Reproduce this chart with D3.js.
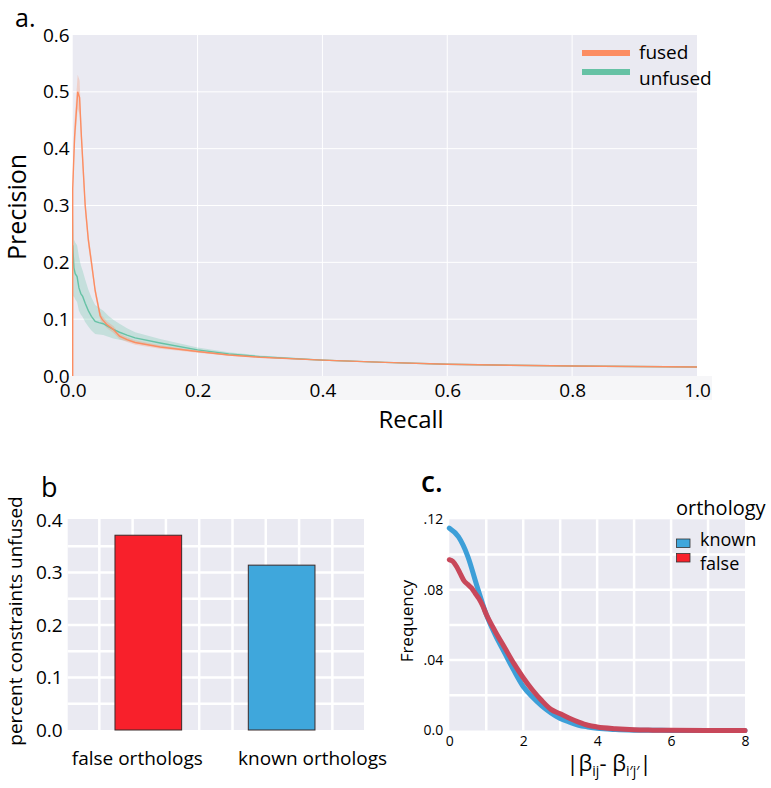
<!DOCTYPE html>
<html><head><meta charset="utf-8">
<script src="https://cdn.jsdelivr.net/npm/d3@7"></script>
<style>body{margin:0;background:#fff}svg{display:block;font-family:"Open Sans",sans-serif}</style>
</head><body>
<svg id="c" width="771" height="788"></svg>
<script>
// ---------- Panel a data ----------
const fusedRecall    = [0, 0, 0.003, 0.008, 0.011, 0.014, 0.017, 0.02, 0.025, 0.03, 0.036, 0.044, 0.047, 0.055, 0.065, 0.075, 0.087, 0.1, 0.14, 0.2, 0.25, 0.3, 0.4, 0.5, 0.6, 0.7, 0.8, 0.9, 1.0];
const fusedPrecision = [0, 0.33, 0.42, 0.50, 0.49, 0.42, 0.36, 0.30, 0.24, 0.20, 0.15, 0.106, 0.100, 0.090, 0.082, 0.070, 0.064, 0.059, 0.051, 0.043, 0.037, 0.033, 0.028, 0.024, 0.0206, 0.019, 0.0176, 0.0166, 0.0158];
const fusedLower     = [0, 0.31, 0.40, 0.47, 0.46, 0.40, 0.34, 0.285, 0.228, 0.19, 0.142, 0.099, 0.094, 0.084, 0.076, 0.065, 0.060, 0.055, 0.048, 0.041, 0.0355, 0.032, 0.027, 0.0233, 0.020, 0.0185, 0.0172, 0.0162, 0.0155];
const fusedUpper     = [0, 0.35, 0.45, 0.53, 0.52, 0.44, 0.38, 0.315, 0.252, 0.21, 0.158, 0.113, 0.106, 0.096, 0.088, 0.075, 0.068, 0.063, 0.054, 0.045, 0.0385, 0.034, 0.029, 0.0247, 0.0212, 0.0195, 0.018, 0.017, 0.0161];

const unfusedRecall    = [0, 0.002, 0.004, 0.007, 0.01, 0.013, 0.016, 0.02, 0.025, 0.03, 0.036, 0.042, 0.049, 0.057, 0.065, 0.075, 0.087, 0.1, 0.14, 0.2, 0.25, 0.3, 0.4, 0.5, 0.6, 0.7, 0.8, 0.9, 1.0];
const unfusedPrecision = [0.23, 0.19, 0.18, 0.175, 0.155, 0.145, 0.14, 0.128, 0.115, 0.105, 0.096, 0.094, 0.092, 0.087, 0.082, 0.077, 0.072, 0.067, 0.058, 0.046, 0.039, 0.034, 0.028, 0.024, 0.0206, 0.019, 0.0176, 0.0166, 0.0158];
const unfusedLower     = [0.14, 0.14, 0.135, 0.13, 0.115, 0.108, 0.104, 0.095, 0.087, 0.08, 0.074, 0.073, 0.072, 0.069, 0.066, 0.064, 0.061, 0.058, 0.051, 0.042, 0.036, 0.032, 0.027, 0.0233, 0.020, 0.0185, 0.0172, 0.0162, 0.0155];
const unfusedUpper     = [0.30, 0.24, 0.235, 0.23, 0.21, 0.195, 0.185, 0.17, 0.152, 0.138, 0.125, 0.12, 0.115, 0.106, 0.099, 0.092, 0.084, 0.077, 0.065, 0.050, 0.042, 0.036, 0.029, 0.0247, 0.0212, 0.0195, 0.018, 0.017, 0.0161];

const aXTicks = [0, 0.2, 0.4, 0.6, 0.8, 1.0];
const aYTicks = [0, 0.1, 0.2, 0.3, 0.4, 0.5, 0.6];
const aSeries = ["fused", "unfused"];

// ---------- Panel b data ----------
const bCategories = ["false orthologs", "known orthologs"];
const bValues = [0.371, 0.314];
const bYTicks = [0, 0.1, 0.2, 0.3, 0.4];
const bGridY = [0.05, 0.1, 0.15, 0.2, 0.25, 0.3, 0.35];
const bGridX = [0, 1, 2, 3, 4, 5, 6, 7];

// ---------- Panel c data ----------
const cKnownX = [0, 0.25, 0.5, 0.75, 1, 1.25, 1.5, 1.75, 2, 2.25, 2.5, 2.75, 3, 3.25, 3.5, 3.75, 4, 4.5, 5, 5.5, 6, 7, 8];
const cKnownY = [0.115, 0.110, 0.099, 0.082, 0.066, 0.054, 0.044, 0.034, 0.025, 0.019, 0.014, 0.010, 0.0068, 0.0048, 0.003, 0.002, 0.0012, 0.0005, 0.0002, 0.0001, 0.00005, 0, 0];
const cFalseX = [0, 0.1, 0.2, 0.3, 0.4, 0.5, 0.6, 0.7, 0.8, 0.9, 1.0, 1.25, 1.5, 1.75, 2, 2.25, 2.5, 2.75, 3, 3.25, 3.5, 3.75, 4, 4.5, 5, 5.5, 6, 7, 8];
const cFalseY = [0.097, 0.096, 0.093, 0.089, 0.085, 0.083, 0.081, 0.078, 0.075, 0.071, 0.066, 0.056, 0.047, 0.038, 0.030, 0.023, 0.017, 0.012, 0.0095, 0.007, 0.0048, 0.003, 0.002, 0.001, 0.0004, 0.0002, 0.0001, 0, 0];
const cXTicks = [0, 2, 4, 6, 8];
const cYTicks = [0, 0.04, 0.08, 0.12];
const cYTickLabels = ["0.0", ".04", ".08", ".12"];
const cGridX = [1, 2, 3, 4, 5, 6, 7];
const cGridY = [0.02, 0.04, 0.06, 0.08, 0.10];
const cLegend = ["known", "false"];

// ---------- Drawing ----------
const svg = d3.select("#c");
const BG = "#EAEAF2";
const FUSED = "#FC8D62", UNFUSED = "#66C2A5";
const RED = "#F8202B", BLUE = "#3FA7DC";
const CRED = "#C8475A", CBLUE = "#3D9FD8";
const TXT = "#000";

// ===== Panel a =====
{
  const x = d3.scaleLinear().domain([0, 1]).range([72.7, 697]);
  const y = d3.scaleLinear().domain([0, 0.6]).range([376, 35]);
  const g = svg.append("g");
  g.append("rect").attr("x", 62).attr("y", 376).attr("width", 650).attr("height", 24).attr("fill", "#f6f6f8");
  g.append("rect").attr("x", x(0)).attr("y", y(0.6)).attr("width", x(1) - x(0)).attr("height", y(0) - y(0.6)).attr("fill", BG);
  g.selectAll("line.gx").data(aXTicks.slice(1, -1)).join("line")
    .attr("x1", d => x(d)).attr("x2", d => x(d)).attr("y1", y(0)).attr("y2", y(0.6))
    .attr("stroke", "#fff").attr("stroke-width", 1);
  g.selectAll("line.gy").data(aYTicks.slice(1, -1)).join("line")
    .attr("x1", x(0)).attr("x2", x(1)).attr("y1", d => y(d)).attr("y2", d => y(d))
    .attr("stroke", "#fff").attr("stroke-width", 1);

  const mk = (r, p, lo, hi) => r.map((v, i) => ({ r: v, p: p[i], lo: lo[i], hi: hi[i] }));
  const fused = mk(fusedRecall, fusedPrecision, fusedLower, fusedUpper);
  const unfused = mk(unfusedRecall, unfusedPrecision, unfusedLower, unfusedUpper);
  const area = d3.area().x(d => x(d.r)).y0(d => y(d.lo)).y1(d => y(d.hi));
  const line = d3.line().x(d => x(d.r)).y(d => y(d.p));
  g.append("path").attr("d", area(unfused)).attr("fill", UNFUSED).attr("opacity", 0.28);
  g.append("path").attr("d", area(fused)).attr("fill", FUSED).attr("opacity", 0.28);
  g.append("path").attr("d", line(unfused)).attr("fill", "none").attr("stroke", UNFUSED).attr("stroke-width", 1.4);
  g.append("path").attr("d", line(fused)).attr("fill", "none").attr("stroke", FUSED).attr("stroke-width", 1.4);

  const xa = g.append("g").attr("transform", `translate(0,${y(0)})`)
    .call(d3.axisBottom(x).tickValues(aXTicks).tickFormat(d3.format(".1f")).tickSize(0).tickPadding(8));
  xa.select(".domain").remove();
  xa.selectAll("text").attr("font-size", 19).attr("font-family", "Open Sans").attr("fill", TXT);
  const ya = g.append("g").attr("transform", `translate(${x(0)},0)`)
    .call(d3.axisLeft(y).tickValues(aYTicks).tickFormat(d3.format(".1f")).tickSize(0).tickPadding(3));
  ya.select(".domain").remove();
  ya.selectAll("text").attr("font-size", 19).attr("font-family", "Open Sans").attr("fill", TXT);

  g.append("text").attr("x", 411).attr("y", 428).attr("text-anchor", "middle").attr("font-size", 24).attr("fill", TXT).text("Recall");
  g.append("text").attr("transform", "translate(26,207) rotate(-90)").attr("text-anchor", "middle").attr("font-size", 25).attr("fill", TXT).text("Precision");
  g.append("text").attr("x", 15).attr("y", 27).attr("font-size", 25).attr("fill", TXT).text("a.");

  const cols = [FUSED, UNFUSED];
  aSeries.forEach((s, i) => {
    g.append("line").attr("x1", 582).attr("x2", 630).attr("y1", 53 + i * 19).attr("y2", 53 + i * 19)
      .attr("stroke", cols[i]).attr("stroke-width", 6);
    g.append("text").attr("x", 639).attr("y", 59 + i * 26).attr("font-size", 19).attr("fill", TXT).text(s);
  });
}

// ===== Panel b =====
{
  const y = d3.scaleLinear().domain([0, 0.4]).range([730, 520]);
  const xb = d3.scaleBand().domain(bCategories).range([81.65, 348.3]).paddingInner(0.5).paddingOuter(0.25);
  const xg = d3.scaleLinear().domain([-0.95, 7.95]).range([67.7, 364]);
  const g = svg.append("g");
  g.append("rect").attr("x", 67.7).attr("y", 519).attr("width", 364 - 67.7).attr("height", 730 - 519).attr("fill", BG);
  g.selectAll("line.gx").data(bGridX).join("line")
    .attr("x1", d => xg(d)).attr("x2", d => xg(d)).attr("y1", 519).attr("y2", 730)
    .attr("stroke", "#fff").attr("stroke-width", 2.5);
  g.selectAll("line.gy").data(bGridY).join("line")
    .attr("x1", 67.7).attr("x2", 364).attr("y1", d => y(d)).attr("y2", d => y(d))
    .attr("stroke", "#fff").attr("stroke-width", 2.5);
  const bcol = [RED, BLUE];
  g.selectAll("rect.bar").data(bValues).join("rect")
    .attr("x", (d, i) => xb(bCategories[i])).attr("width", xb.bandwidth())
    .attr("y", d => y(d)).attr("height", d => y(0) - y(d))
    .attr("fill", (d, i) => bcol[i]).attr("stroke", "#3a2a2a").attr("stroke-width", 1);

  const ya = g.append("g").attr("transform", `translate(67.7,0)`)
    .call(d3.axisLeft(y).tickValues(bYTicks).tickFormat(d3.format(".1f")).tickSize(0).tickPadding(5));
  ya.select(".domain").remove();
  ya.selectAll("text").attr("font-size", 19).attr("font-family", "Open Sans").attr("fill", TXT);

  const labelShift = [-11, 31];
  bCategories.forEach((c, i) => {
    g.append("text").attr("x", xb(c) + xb.bandwidth() / 2 + labelShift[i]).attr("y", 765)
      .attr("text-anchor", "middle").attr("font-size", 19).attr("fill", TXT).text(c);
  });
  g.append("text").attr("transform", "translate(22,621) rotate(-90)").attr("text-anchor", "middle").attr("font-size", 19).attr("fill", TXT).text("percent constraints unfused");
  g.append("text").attr("x", 41).attr("y", 497).attr("font-size", 27).attr("fill", TXT).text("b");
}

// ===== Panel c =====
{
  const x = d3.scaleLinear().domain([0, 8]).range([449.3, 745]);
  const y = d3.scaleLinear().domain([0, 0.12]).range([730.5, 519.3]);
  const g = svg.append("g");
  g.append("rect").attr("x", x(0)).attr("y", y(0.12)).attr("width", x(8) - x(0)).attr("height", y(0) - y(0.12)).attr("fill", BG);
  g.selectAll("line.gx").data(cGridX).join("line")
    .attr("x1", d => x(d)).attr("x2", d => x(d)).attr("y1", y(0)).attr("y2", y(0.12))
    .attr("stroke", "#fff").attr("stroke-width", 2.5);
  g.selectAll("line.gy").data(cGridY).join("line")
    .attr("x1", x(0)).attr("x2", x(8)).attr("y1", d => y(d)).attr("y2", d => y(d))
    .attr("stroke", "#fff").attr("stroke-width", 2.5);

  const line = d3.line().x(d => x(d[0])).y(d => y(d[1])).curve(d3.curveMonotoneX);
  g.append("path").attr("d", line(cKnownX.map((v, i) => [v, cKnownY[i]]))).attr("fill", "none").attr("stroke", CBLUE).attr("stroke-width", 5).attr("stroke-linecap", "round");
  g.append("path").attr("d", line(cFalseX.map((v, i) => [v, cFalseY[i]]))).attr("fill", "none").attr("stroke", CRED).attr("stroke-width", 5).attr("stroke-linecap", "round");

  const xa = g.append("g").attr("transform", `translate(0,${y(0)})`)
    .call(d3.axisBottom(x).tickValues(cXTicks).tickFormat(d3.format("d")).tickSize(0).tickPadding(6));
  xa.select(".domain").remove();
  xa.selectAll("text").attr("font-size", 14).attr("font-family", "Open Sans").attr("fill", TXT);
  const ya = g.append("g").attr("transform", `translate(${x(0) - 2},0)`)
    .call(d3.axisLeft(y).tickValues(cYTicks).tickFormat((d, i) => cYTickLabels[i]).tickSize(0).tickPadding(4));
  ya.select(".domain").remove();
  ya.selectAll("text").attr("font-size", 14).attr("font-family", "Open Sans").attr("fill", TXT);

  g.append("text").attr("transform", "translate(413,621) rotate(-90)").attr("text-anchor", "middle").attr("font-size", 17).attr("fill", TXT).text("Frequency");
  const lab = g.append("text").attr("x", 609).attr("y", 771).attr("text-anchor", "middle").attr("font-size", 22).attr("fill", TXT);
  lab.append("tspan").text("|β");
  lab.append("tspan").attr("font-size", 14).attr("dy", 5).text("ij");
  lab.append("tspan").attr("dy", -5).text("- β");
  lab.append("tspan").attr("font-size", 14).attr("dy", 5).text("i′j′");
  lab.append("tspan").attr("dy", -5).text("|");
  g.append("text").attr("x", 421).attr("y", 492).attr("font-size", 28).attr("font-weight", 600).attr("fill", TXT).text("c.");

  g.append("text").attr("x", 676).attr("y", 515).attr("font-size", 20).attr("fill", TXT).text("orthology");
  const lcol = [BLUE, RED];
  cLegend.forEach((s, i) => {
    g.append("rect").attr("x", 676.5).attr("y", 539 + i * 14.5).attr("width", 13.5).attr("height", 8.5)
      .attr("fill", lcol[i]).attr("stroke", "#333").attr("stroke-width", 0.8);
    g.append("text").attr("x", 700).attr("y", 546 + i * 24).attr("font-size", 18).attr("fill", TXT).text(s);
  });
}
</script>
</body></html>
